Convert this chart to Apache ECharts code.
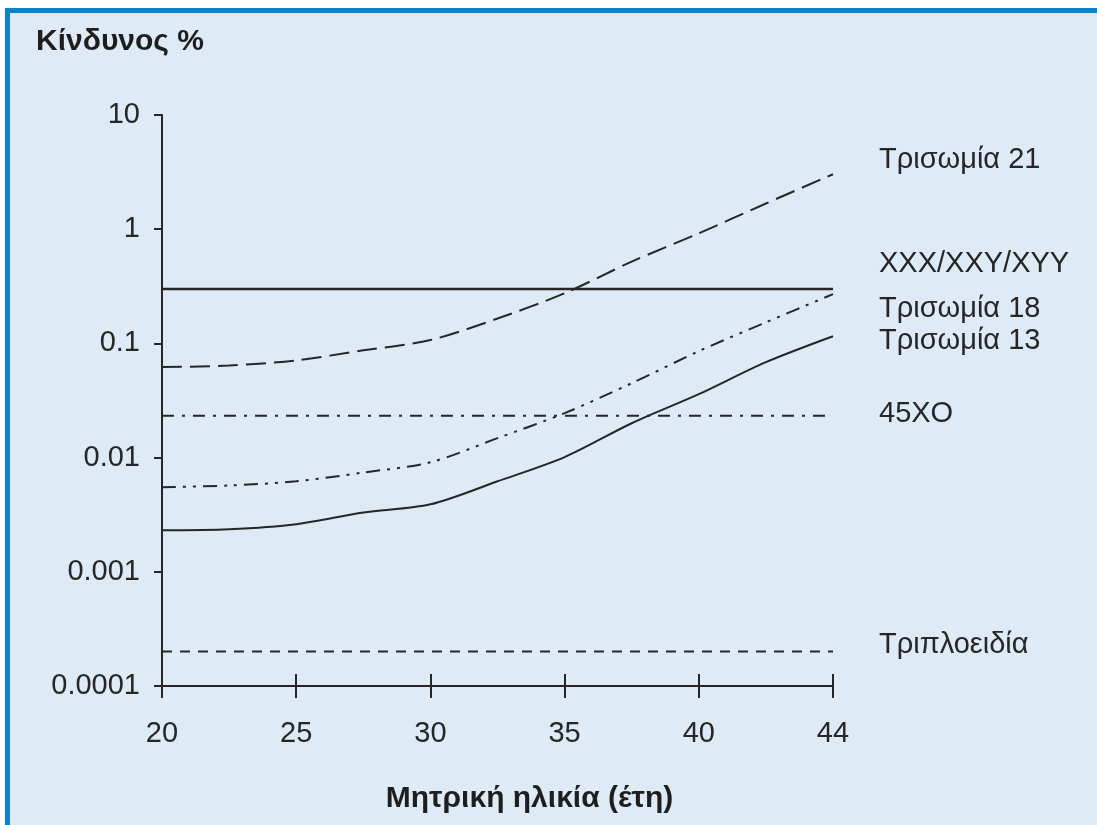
<!DOCTYPE html>
<html>
<head>
<meta charset="utf-8">
<script src="https://cdn.jsdelivr.net/npm/echarts@6/dist/echarts.min.js"></script>
<style>
  html, body { margin: 0; padding: 0; background: #ffffff; }
  #frame {
    position: absolute; left: 5px; top: 8px; width: 1092px; height: 817px;
    border-top: 5px solid #0a84c6; border-left: 5px solid #0a84c6;
    box-sizing: border-box; background: #deeaf6;
  }
  #chart { position: absolute; left: 0; top: 0; width: 1097px; height: 825px; }
</style>
</head>
<body>
<div id="frame"></div>
<div id="chart"></div>
<script>
// x axis: evenly spaced ticks (last step is 40 -> 44), positions are tick indices
var ageTicks = ['20', '25', '30', '35', '40', '44'];
var riskTicks = ['0.0001', '0.001', '0.01', '0.1', '1', '10'];
var xPos = [0, 0.5, 1, 1.5, 2, 2.5, 3, 3.5, 4, 4.5, 5];

// risk %
var tri21 = [0.062, 0.064, 0.071, 0.087, 0.107, 0.165, 0.275, 0.52, 0.92, 1.68, 3.03];
var tri18 = [0.0055, 0.0057, 0.0062, 0.0074, 0.0091, 0.0148, 0.0245, 0.0448, 0.0855, 0.153, 0.27];
var tri13 = [0.00231, 0.00236, 0.00261, 0.0033, 0.0039, 0.0062, 0.0101, 0.020, 0.0359, 0.0685, 0.1156];
var sexAneuploidy = 0.30;   // XXX/XXY/XYY
var turner = 0.0233;        // 45XO
var triploidy = 0.0002;

var names = ['Τρισωμία 21', 'XXX/XXY/XYY', 'Τρισωμία 18', 'Τρισωμία 13', '45XO', 'Τριπλοειδία'];

function pairs(vals) {
  return vals.map(function (v, i) { return [xPos[i], v]; });
}
function flat(v) {
  return [[0, v], [5, v]];
}

var FONT = 'Liberation Sans, Arial, sans-serif';
var INK = '#262626';

function lineSeries(name, data, dash, width, dy, smooth) {
  return {
    name: name,
    type: 'line',
    data: data,
    smooth: smooth ? 0.3 : false,
    symbol: 'none',
    silent: true,
    lineStyle: { color: INK, width: width, type: dash },
    endLabel: {
      show: true,
      formatter: '{a}',
      distance: 46,
      offset: [0, dy],
      color: INK,
      fontSize: 29,
      fontFamily: FONT
    },
    z: 3
  };
}

var chart = echarts.init(document.getElementById('chart'));
chart.setOption({
  animation: false,
  backgroundColor: 'transparent',
  title: {
    text: 'Κίνδυνος %',
    left: 36, top: 27, padding: 0,
    textStyle: { fontSize: 30, fontWeight: 'bold', color: '#1e1e1e', fontFamily: FONT }
  },
  grid: { left: 162, right: 264, top: 115, bottom: 139 },
  xAxis: [{
    type: 'value', min: 0, max: 5, interval: 1, position: 'bottom',
    name: 'Μητρική ηλικία (έτη)', nameLocation: 'middle', nameGap: 98,
    nameTextStyle: { fontSize: 30, fontWeight: 'bold', color: '#1e1e1e', fontFamily: FONT, padding: [0, 0, 0, 64] },
    axisLine: { lineStyle: { color: INK, width: 2 } },
    axisTick: { length: 12, lineStyle: { color: INK, width: 2 } },
    axisLabel: {
      margin: 33, fontSize: 29, color: INK, fontFamily: FONT,
      formatter: function (v) { return ageTicks[Math.round(v)]; }
    },
    splitLine: { show: false }
  }, {
    type: 'value', min: 0, max: 5, interval: 1, position: 'bottom', offset: 0,
    axisLine: { show: false },
    axisTick: { inside: true, length: 12, lineStyle: { color: INK, width: 2 } },
    axisLabel: { show: false },
    splitLine: { show: false }
  }],
  yAxis: {
    type: 'log', logBase: 10, min: 0.0001, max: 10,
    axisLine: { show: true, lineStyle: { color: INK, width: 2 } },
    axisTick: { show: true, length: 8, lineStyle: { color: INK, width: 2 } },
    axisLabel: {
      margin: 22, fontSize: 29, color: INK, fontFamily: FONT, padding: [12, 0, 0, 0],
      formatter: function (v) { return riskTicks[Math.round(Math.log10(v)) + 4]; }
    },
    minorTick: { show: false },
    splitLine: { show: false }
  },
  series: [
    lineSeries(names[0], pairs(tri21), [20, 8], 2, -14, true),
    lineSeries(names[1], flat(sexAneuploidy), 'solid', 2.5, -25, false),
    lineSeries(names[2], pairs(tri18), [14, 7, 3, 7, 3, 7], 2, 15, true),
    lineSeries(names[3], pairs(tri13), 'solid', 2, 5, true),
    lineSeries(names[4], flat(turner), [12, 8, 3, 8], 2, -2, false),
    lineSeries(names[5], flat(triploidy), [10, 8], 2, -7, false)
  ]
});
</script>
</body>
</html>
